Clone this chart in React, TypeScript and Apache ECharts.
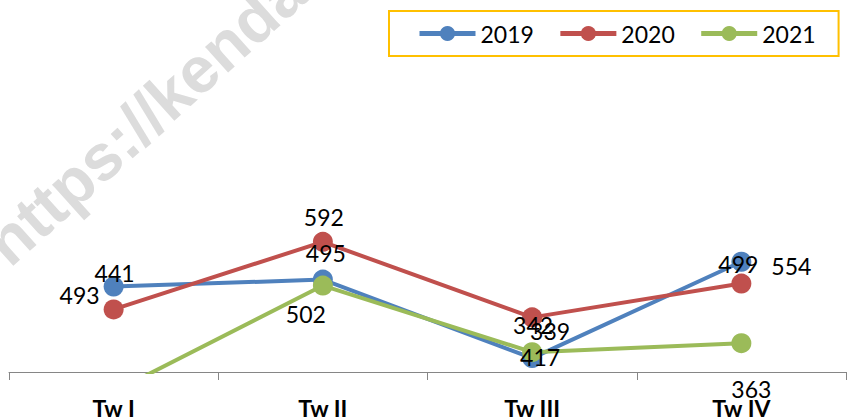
import React, { useEffect, useRef } from "react";
import * as echarts from "echarts";

const categories = ["Tw I", "Tw II", "Tw III", "Tw IV"];
const seriesNames = ["2019", "2020", "2021"];
const values2019 = [86, 93, 14, 111];
const values2020 = [63, 131, 55, 89];
const values2021 = [-20, 87, 20, 29];
const labels2019 = ["441", "495", "339", "499"];
const labels2020 = ["493", "592", "342", "554"];
const labels2021 = ["", "502", "417", "363"];
const watermarkText = "https://kenda";

// layout only: label offsets (px) relative to each marker
const offsets2019 = [[1, -14], [3, -27], [18, -27], [-3, 2]];
const offsets2020 = [[-34, -14], [1, -25], [1, 8], [50, -18]];
const offsets2021 = [[0, 0], [-17, 28], [8, 5], [10, 46]];

const colors = ["#4F81BD", "#C0504D", "#9BBB59"];
const FONT = "Lato";

function buildSeries(name: string, values: number[], labels: string[], offsets: number[][], color: string) {
  return {
    name,
    type: "line",
    symbol: "circle",
    symbolSize: 20,
    color,
    lineStyle: { width: 4, color },
    itemStyle: { color },
    label: {
      show: true,
      position: "inside",
      color: "#000",
      fontSize: 23,
      fontFamily: FONT,
      textBorderWidth: 0,
    },
    data: values.map((v, i) => ({
      value: v,
      label: labels[i]
        ? { show: true, formatter: labels[i], offset: offsets[i] }
        : { show: false },
    })),
  };
}

export default function App() {
  const ref = useRef<HTMLDivElement>(null);
  useEffect(() => {
    if (!ref.current) return;
    const chart = echarts.init(ref.current, undefined, { renderer: "svg" });
    chart.setOption({
      animation: false,
      backgroundColor: "#fff",
      textStyle: { fontFamily: FONT },
      graphic: [
        {
          type: "text",
          x: -5,
          y: 252,
          rotation: (42 * Math.PI) / 180,
          z: -10,
          silent: true,
          style: {
            text: watermarkText,
            fill: "#dcdcdc",
            font: 'bold 65px "Liberation Sans"',
            align: "left",
            verticalAlign: "middle",
            textAlign: "left",
            textVerticalAlign: "middle",
          },
        },
      ],
      legend: {
        data: seriesNames,
        left: 389,
        top: 11,
        padding: [11, 23, 11, 28],
        itemWidth: 56,
        itemHeight: 19,
        itemGap: 24,
        borderColor: "#FFC000",
        borderWidth: 2,
        lineStyle: { width: 5 },
        textStyle: { fontSize: 23, color: "#000", fontFamily: FONT },
      },
      grid: { left: 9, right: 1, top: 74, bottom: 45 },
      xAxis: {
        type: "category",
        data: categories,
        boundaryGap: true,
        axisLine: { lineStyle: { color: "#868686", width: 1 } },
        axisTick: { show: true, length: 8, lineStyle: { color: "#868686" } },
        axisLabel: {
          margin: 24,
          fontSize: 23,
          fontWeight: "bold",
          color: "#000",
          fontFamily: FONT,
        },
      },
      yAxis: {
        type: "value",
        min: 0,
        max: 300,
        show: false,
        splitLine: { show: false },
      },
      series: [
        buildSeries(seriesNames[0], values2019, labels2019, offsets2019, colors[0]),
        buildSeries(seriesNames[1], values2020, labels2020, offsets2020, colors[1]),
        buildSeries(seriesNames[2], values2021, labels2021, offsets2021, colors[2]),
      ],
    });
    return () => chart.dispose();
  }, []);
  return (
    <div
      ref={ref}
      style={{ position: "absolute", left: 0, top: 0, width: 847, height: 419 }}
    />
  );
}
